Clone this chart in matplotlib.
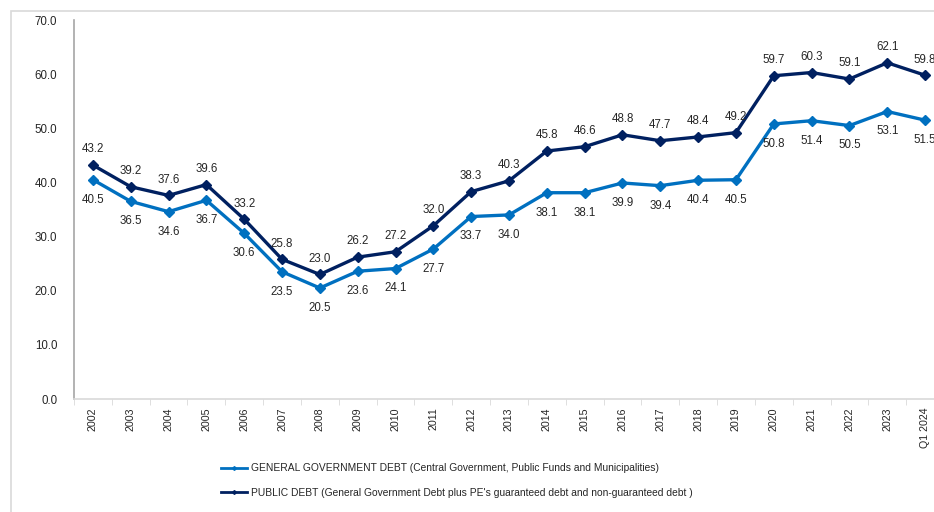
import numpy as np
import matplotlib
matplotlib.use("Agg")
import matplotlib.pyplot as plt
from matplotlib import font_manager
from matplotlib.patches import Rectangle

names = {f.name for f in font_manager.fontManager.ttflist}
narrow = "Liberation Sans Narrow" in names
plt.rcParams['font.family'] = ['Liberation Sans Narrow', 'Liberation Sans', 'DejaVu Sans'] if narrow \
    else ['Liberation Sans', 'DejaVu Sans']
fs = 9.5 if narrow else 8.3

# data
years = ["2002", "2003", "2004", "2005", "2006", "2007", "2008", "2009", "2010",
         "2011", "2012", "2013", "2014", "2015", "2016", "2017", "2018", "2019",
         "2020", "2021", "2022", "2023", "Q1 2024"]
gen_gov = [40.5, 36.5, 34.6, 36.7, 30.6, 23.5, 20.5, 23.6, 24.1, 27.7, 33.7, 34.0,
           38.1, 38.1, 39.9, 39.4, 40.4, 40.5, 50.8, 51.4, 50.5, 53.1, 51.5]
public = [43.2, 39.2, 37.6, 39.6, 33.2, 25.8, 23.0, 26.2, 27.2, 32.0, 38.3, 40.3,
          45.8, 46.6, 48.8, 47.7, 48.4, 49.2, 59.7, 60.3, 59.1, 62.1, 59.8]
labels = ["GENERAL GOVERNMENT DEBT (Central Government, Public Funds and Municipalities)",
          "PUBLIC DEBT (General Government Debt plus PE's guaranteed debt and non-guaranteed debt )"]

c_gg = "#0070C0"
c_pd = "#002060"
txt = "#262626"

W, H = 934, 512
fig = plt.figure(figsize=(W / 100, H / 100), dpi=100)

# light outer frame
fig.patches.append(Rectangle((11 / W, -0.1), 1.2, 1 - 11 / H + 0.1, transform=fig.transFigure,
                             fill=False, edgecolor="#d9d9d9", linewidth=1.2))

ax = fig.add_axes([74 / W, 1 - 399 / H, (944 - 74) / W, (399 - 20) / H])
x = np.arange(len(years))

l1, = ax.plot(x, gen_gov, color=c_gg, lw=2.4, marker="D", ms=5.5, clip_on=False)
l2, = ax.plot(x, public, color=c_pd, lw=2.4, marker="D", ms=5.5, clip_on=False)

for i in x:
    ax.annotate(f"{gen_gov[i]:.1f}", (i, gen_gov[i]), xytext=(0, -10), textcoords="offset points",
                ha="center", va="top", fontsize=fs, color=txt, annotation_clip=False)
    ax.annotate(f"{public[i]:.1f}", (i, public[i]), xytext=(0, 7), textcoords="offset points",
                ha="center", va="bottom", fontsize=fs, color=txt, annotation_clip=False)

ax.set_xlim(-0.5, len(years) - 0.5)
ax.set_ylim(0, 70)
ax.set_yticks(np.arange(0, 71, 10))
ax.set_yticklabels([f"{v:.1f}" for v in range(0, 71, 10)], fontsize=fs, color=txt)
ax.tick_params(axis="y", length=0, pad=12)

ax.set_xticks(x)
ax.set_xticklabels(years, rotation=90, fontsize=fs - 0.6, color=txt)
ax.set_xticks(np.arange(-0.5, len(years), 1), minor=True)
ax.tick_params(axis="x", which="major", length=0, pad=6)
ax.tick_params(axis="x", which="minor", length=4, color="#d9d9d9")

for s in ["top", "right"]:
    ax.spines[s].set_visible(False)
ax.spines["left"].set_color("#a6a6a6")
ax.spines["bottom"].set_color("#d9d9d9")
ax.spines["left"].set_linewidth(1.2)
ax.spines["bottom"].set_linewidth(1.2)

leg = fig.legend([l1, l2], labels, loc="upper left", bbox_to_anchor=(212 / W, 1 - 454 / H),
                 frameon=False, fontsize=fs * 0.885, handlelength=2.5, handletextpad=0.45,
                 labelspacing=1.45, markerscale=0.35)
for t in leg.get_texts():
    t.set_color(txt)
for h in leg.legend_handles:
    h.set_linewidth(2)

fig.savefig("out.png", dpi=100)
